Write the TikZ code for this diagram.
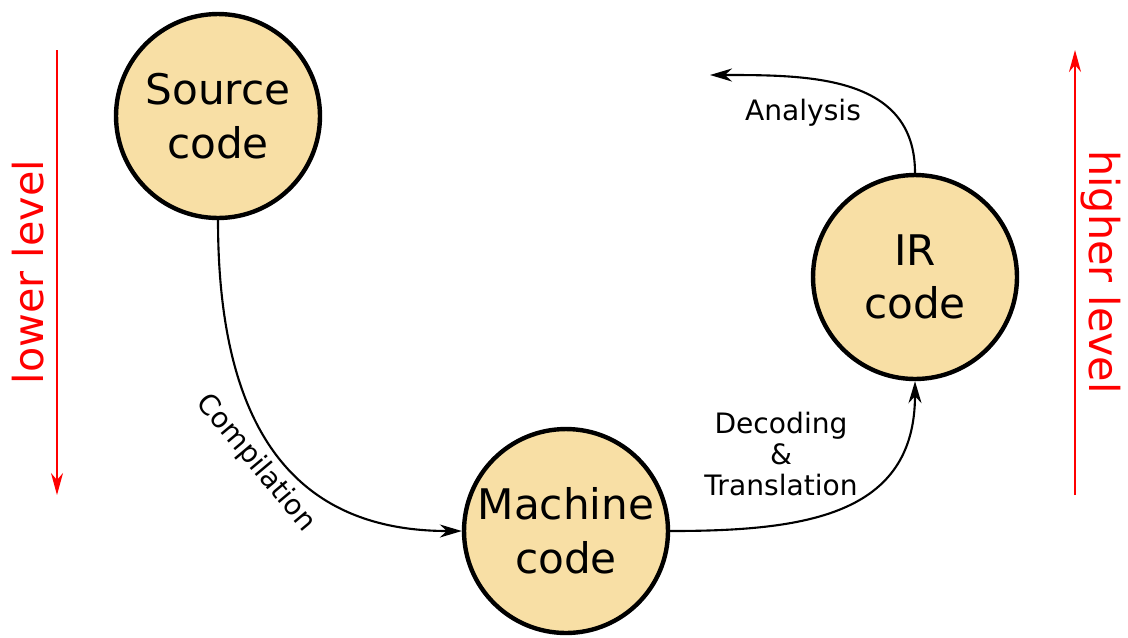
\documentclass[tikz,border=0pt]{standalone}
\usepackage{fontspec}
\setmainfont{DejaVu Sans}
\usetikzlibrary{arrows.meta,positioning}
\definecolor{codefill}{HTML}{F8DFA5}

\begin{document}
\begin{tikzpicture}[
    x=0.02cm, y=-0.02cm,
    every node/.style={font=\fontsize{16}{17.5}\selectfont},
    stage/.style={draw, circle, line width=2.5pt, fill=codefill, minimum size=4.08cm, inner sep=0pt, align=center, font=\fontsize{24}{30.5}\selectfont},
    flow/.style={-{Stealth[length=4.4mm, width=2.6mm, inset=1.4mm]}, line width=1.2pt},
    level/.style={-{Stealth[length=4.4mm, width=2.4mm, inset=1.4mm]}, line width=1.1pt, red},
    levellabel/.style={red, font=\fontsize{23.5}{28}\selectfont}
]
\useasboundingbox (0,0) rectangle (1128,637);

\node[stage] (source) at (218,116) {Source\\code};
\node[stage] (ir) at (915,277) {IR\\code};
\node[stage] (machine) at (566,531) {Machine\\code};
\coordinate (analysisend) at (710,75);

\draw[flow] (source.south) .. controls +(0,225) and +(-155,0) .. (machine.west);
\draw[flow] (machine.east) to[out=0, in=-90, looseness=1.2] (ir.south);
\draw[flow] (ir.north) to[out=90, in=0, looseness=1.1] (analysisend);

\node[rotate=-50] (compilation) at (256,463) {Compilation};
\node[align=center] (decoding) at (781,454) {Decoding\\\&\\Translation};
\node (analysis) at (803,113) {Analysis};

% abstraction levels
\coordinate (lowtop) at (57,50);
\coordinate (lowbottom) at (57,495);
\coordinate (hightop) at (1075,50);
\coordinate (highbottom) at (1075,495);
\draw[level] (lowtop) -- (lowbottom);
\draw[level] (highbottom) -- (hightop);
\node[levellabel, rotate=90] (lower) at (28,272) {lower level};
\node[levellabel, rotate=-90] (higher) at (1101,272) {higher level};
\end{tikzpicture}
\end{document}
